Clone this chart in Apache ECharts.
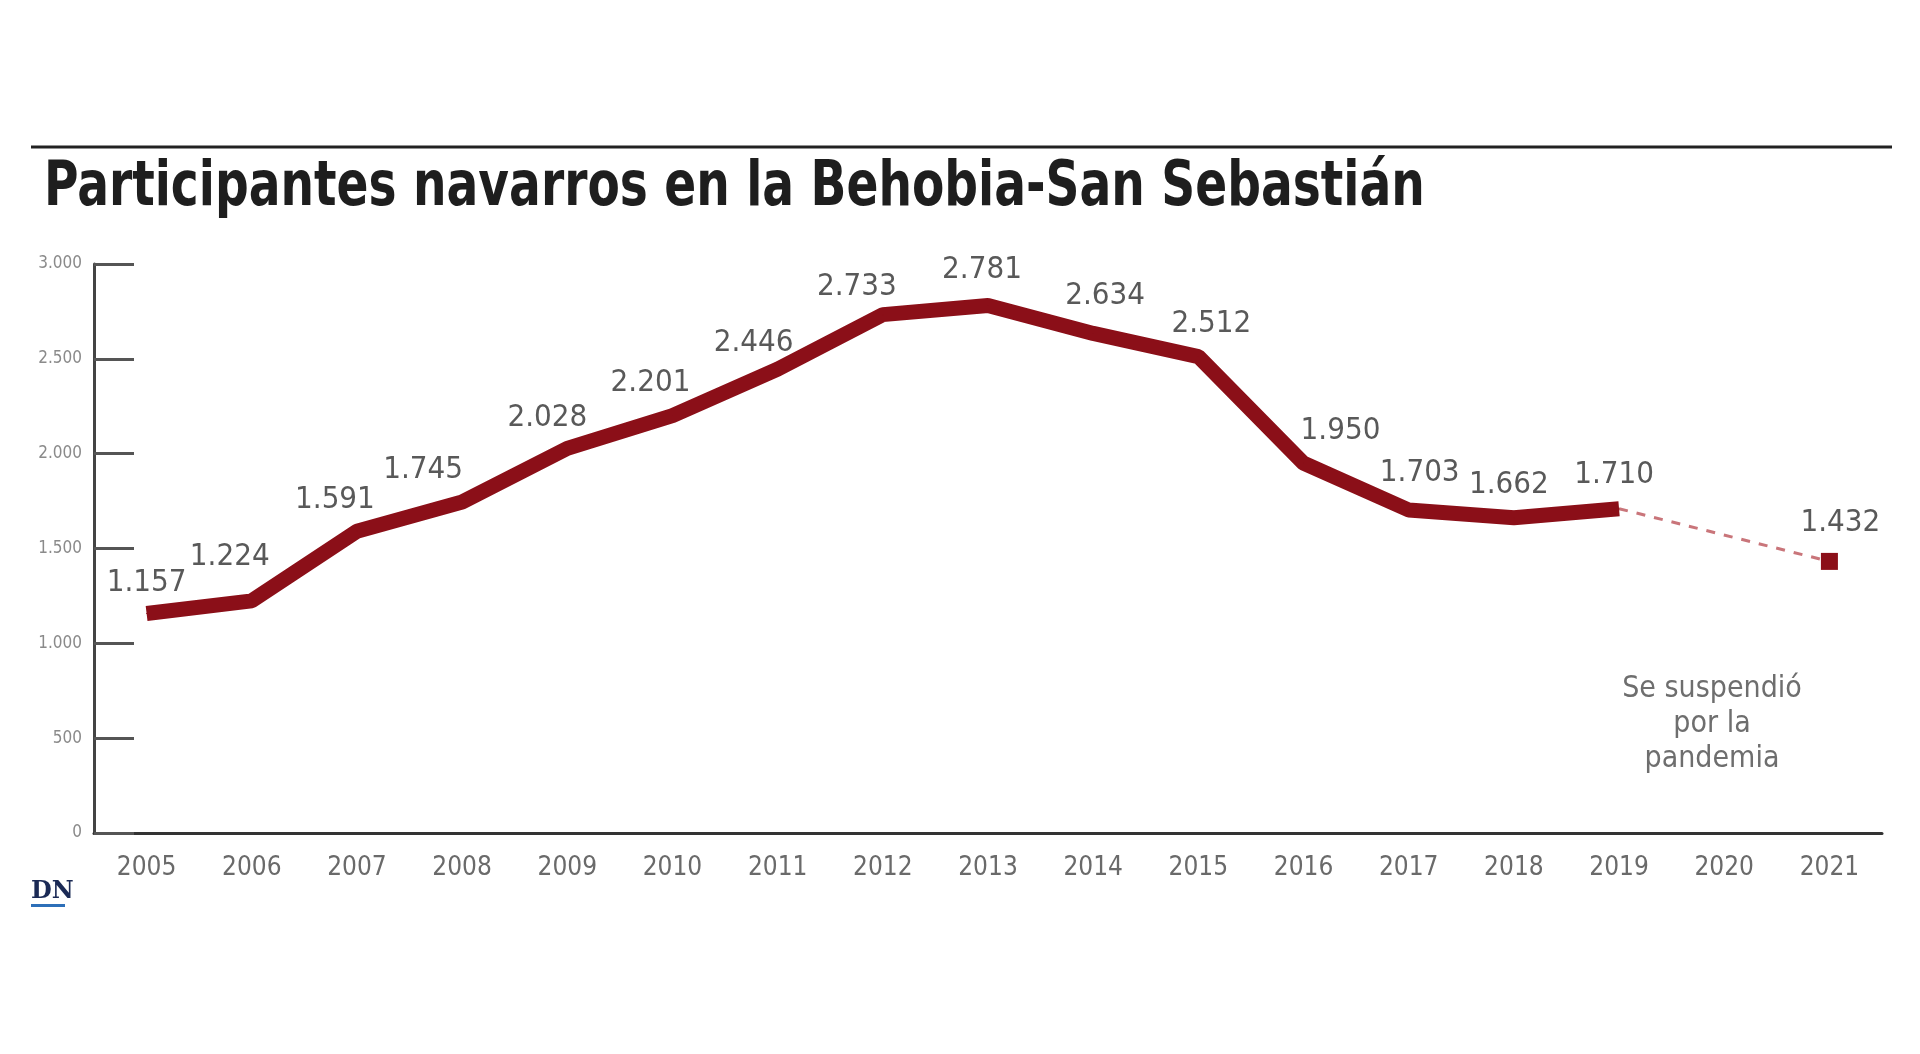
<!DOCTYPE html>
<html>
<head>
<meta charset="utf-8">
<title>Participantes navarros en la Behobia-San Sebastián</title>
<script src="https://cdn.jsdelivr.net/npm/echarts@6/dist/echarts.min.js"></script>
<style>
    html, body { margin: 0; padding: 0; background: #ffffff; }
    #chart { width: 1920px; height: 1054px; }
</style>
</head>
<body>
<div id="chart"></div>
<script>
// años y participantes (2020 sin carrera)
const years = ["2005", "2006", "2007", "2008", "2009", "2010", "2011", "2012", "2013",
    "2014", "2015", "2016", "2017", "2018", "2019", "2020", "2021"];
const participants = [1157, 1224, 1591, 1745, 2028, 2201, 2446, 2733, 2781,
    2634, 2512, 1950, 1703, 1662, 1710, null, 1432];
const yTicks = [0, 500, 1000, 1500, 2000, 2500, 3000];
const note = ["Se suspendió", "por la", "pandemia"];

// ajuste fino de la posición de las etiquetas (px)
const labelShiftX = [0, -22, -22, -39, -20, -22, -24, -26, -6, 12, 13, 37, 11, -5, -5, 0, 11];
const labelShiftY = [-31, -44, -31, -32, -30, -33, -26, -28, -36, -37, -33, -32, -37, -33, -34, 0, -38];

const RED = "#8b0f18";
const FONT = "'Liberation Sans Narrow', 'DejaVu Sans Condensed', sans-serif";

const lastIdx = participants.length - 1;
const gapIdx = participants.indexOf(null);
const solidData = participants.map((v, i) => (i < gapIdx ? v : null));
const dashData = participants.map((v, i) => (i === gapIdx - 1 || i === lastIdx ? v : null));
const pointData = participants.map((v, i) => (i === lastIdx ? v : null));

const fmt = (v) => {
    const s = String(v);
    return s.length > 3 ? s.slice(0, s.length - 3) + "." + s.slice(-3) : s;
};

const valueLabel = {
    show: true,
    position: "inside",
    fontFamily: FONT,
    fontSize: 31,
    color: "#595959",
    formatter: (p) => fmt(p.value),
};
const shiftLabel = (p) => ({
    dx: labelShiftX[p.dataIndex],
    dy: labelShiftY[p.dataIndex],
});

const chart = echarts.init(document.getElementById("chart"));
chart.setOption({
    backgroundColor: "#ffffff",
    animation: false,
    grid: {
        left: 94,
        right: 38,
        top: 264,
        bottom: 221,
        containLabel: false,
        outerBoundsMode: "none",
    },
    xAxis: {
        type: "category",
        data: years,
        boundaryGap: true,
        axisLine: { lineStyle: { color: "#333", width: 3 } },
        axisTick: {
            inside: true,
            length: 14,
            lineStyle: { color: "#333", width: 2 },
        },
        axisLabel: {
            margin: 22,
            fontFamily: FONT,
            fontSize: 26,
            color: "#6a6a6a",
        },
        splitLine: { show: false },
    },
    yAxis: {
        type: "value",
        min: yTicks[0],
        max: yTicks[yTicks.length - 1],
        interval: yTicks[1] - yTicks[0],
        axisLine: { show: true, lineStyle: { color: "#444", width: 3 } },
        axisTick: {
            show: true,
            inside: true,
            length: 40,
            lineStyle: { color: "#555", width: 3 },
        },
        axisLabel: {
            margin: 12,
            fontFamily: FONT,
            fontSize: 17,
            color: "#8a8a8a",
            formatter: fmt,
        },
        splitLine: { show: false },
    },
    series: [
        {
            name: "dash",
            type: "line",
            data: dashData,
            connectNulls: true,
            symbol: "none",
            lineStyle: { color: "#c9757a", width: 3, type: [9, 9] },
            z: 1,
        },
        {
            name: "participantes",
            type: "line",
            data: solidData,
            symbol: "circle",
            symbolSize: 1,
            showSymbol: true,
            itemStyle: { color: RED },
            lineStyle: { color: RED, width: 15, join: "bevel", cap: "butt" },
            label: valueLabel,
            labelLayout: shiftLabel,
            z: 3,
        },
        {
            name: "2021",
            type: "scatter",
            data: pointData,
            symbol: "rect",
            symbolSize: 17,
            itemStyle: { color: RED, opacity: 1 },
            label: valueLabel,
            labelLayout: shiftLabel,
            z: 4,
        },
    ],
    graphic: [
        {
            type: "line",
            shape: { x1: 31, y1: 147, x2: 1892, y2: 147 },
            style: { stroke: "#222", lineWidth: 3 },
        },
        {
            type: "text",
            x: 44,
            y: 158,
            scaleX: 0.845,
            style: {
                text: "Participantes navarros en la Behobia-San Sebastián",
                font: "bold 62px " + FONT,
                fill: "#1e1e1e",
            },
        },
        {
            type: "text",
            x: 1712,
            y: 672,
            style: {
                text: note.join("\n"),
                font: "30px " + FONT,
                fill: "#6e6e6e",
                align: "center",
                lineHeight: 35,
            },
        },
        {
            type: "text",
            x: 31,
            y: 880,
            style: {
                text: "DN",
                font: "bold 24px 'DejaVu Serif', serif",
                fill: "#1b2a55",
            },
        },
        {
            type: "rect",
            shape: { x: 31, y: 904, width: 34, height: 3 },
            style: { fill: "#2d6fb8" },
        },
    ],
});
</script>
</body>
</html>
